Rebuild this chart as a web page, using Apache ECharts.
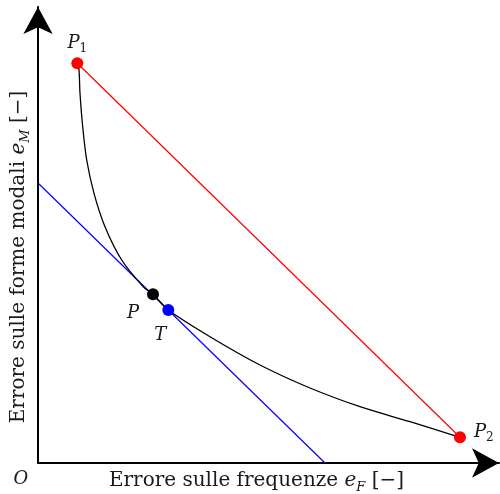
<!DOCTYPE html>
<html><head><meta charset="utf-8">
<script src="https://cdn.jsdelivr.net/npm/echarts@6/dist/echarts.min.js"></script>
<style>html,body{margin:0;padding:0;background:#fff}#c{width:500px;height:494px}</style>
</head><body><div id="c"></div>
<script>
// Data (arbitrary units, origin O at (0,0))
const paretoCurve = [
  [39.3, 399.7], [41, 393], [42, 369.7], [44.7, 336.3], [48.7, 303], [56, 269.7],
  [67, 236.3], [83.7, 203], [105.3, 176.3], [115, 168.7], [130.3, 153], [172, 126.3],
  [222, 98], [272, 75], [322, 56.3], [372, 41.3], [422, 25.7]
];
const pointP1 = [39.3, 399.7];
const pointP2 = [422, 25.7];
const pointP = [115, 168.7];
const pointT = [130.3, 153];
const tangentLine = [[0, 280], [287, 0]];
const xLabelMain = 'Errore sulle frequenze ';
const yLabelMain = 'Errore sulle forme modali ';

const serif = 'DejaVu Serif';
const ink = '#1a1a1a';
const rich = {
  n: {fontFamily: serif, fontSize: 20, color: ink, lineHeight: 26},
  i: {fontFamily: serif, fontSize: 20, fontStyle: 'italic', color: ink, lineHeight: 26},
  s: {fontFamily: serif, fontSize: 13, fontStyle: 'italic', color: ink, lineHeight: 13, verticalAlign: 'bottom'},
  su: {fontFamily: serif, fontSize: 12, color: ink, lineHeight: 12, verticalAlign: 'bottom'},
  p: {fontFamily: serif, fontSize: 18, fontStyle: 'italic', color: ink, lineHeight: 24}
};

const chart = echarts.init(document.getElementById('c'), null, {renderer: 'canvas'});
chart.setOption({
  animation: false,
  grid: {left: 38, right: 1, top: 7, bottom: 31, containLabel: false, outerBoundsMode: 'none'},
  xAxis: {
    type: 'value', min: 0, max: 461,
    axisLine: {lineStyle: {color: '#000', width: 2}, symbol: ['none', 'arrow'], symbolSize: [22, 27]},
    axisTick: {show: false}, axisLabel: {show: false}, splitLine: {show: false},
    name: '{n|' + xLabelMain + '}{i|e}{s|F}{n| [−]}',
    nameLocation: 'middle', nameGap: 5,
    nameTextStyle: {rich: rich, padding: [0, 24, 0, 0]}
  },
  yAxis: {
    type: 'value', min: 0, max: 456,
    axisLine: {lineStyle: {color: '#000', width: 2}, symbol: ['none', 'arrow'], symbolSize: [22, 27]},
    axisTick: {show: false}, axisLabel: {show: false}, splitLine: {show: false},
    name: '{n|' + yLabelMain + '}{i|e}{s|M}{n| [−]}',
    nameLocation: 'middle', nameGap: 6,
    nameTextStyle: {rich: rich, padding: [0, 44, 0, 0]}
  },
  series: [
    {type: 'line', data: [pointP1, pointP2], symbol: 'none', lineStyle: {color: '#ff0000', width: 1.2}, z: 2},
    {type: 'line', data: tangentLine, symbol: 'none', lineStyle: {color: '#0000ff', width: 1.2}, z: 2},
    {type: 'line', data: paretoCurve, symbol: 'none', smooth: 0.3, lineStyle: {color: '#000', width: 1.3}, z: 3},
    {type: 'scatter', symbolSize: 12, z: 5, itemStyle: {opacity: 1}, data: [
      {value: pointP1, itemStyle: {color: '#ff0000', opacity: 1}, label: {show: true, position: 'top', distance: 2, formatter: '{p|P}{su|1}', rich: rich}},
      {value: pointP2, itemStyle: {color: '#ff0000', opacity: 1}, label: {show: true, position: 'right', distance: 8, offset: [0, -5], formatter: '{p|P}{su|2}', rich: rich}},
      {value: pointP, itemStyle: {color: '#000', opacity: 1}, label: {show: true, position: 'inside', offset: [-20, 19], formatter: '{p|P}', rich: rich}},
      {value: pointT, itemStyle: {color: '#0000ff', opacity: 1}, label: {show: true, position: 'inside', offset: [-8, 25], formatter: '{p|T}', rich: rich}},
      {value: [0, 0], symbolSize: 0, itemStyle: {color: 'transparent'}, label: {show: true, position: 'inside', offset: [-17, 16], formatter: '{p|O}', rich: rich}}
    ]}
  ]
});
</script></body></html>
